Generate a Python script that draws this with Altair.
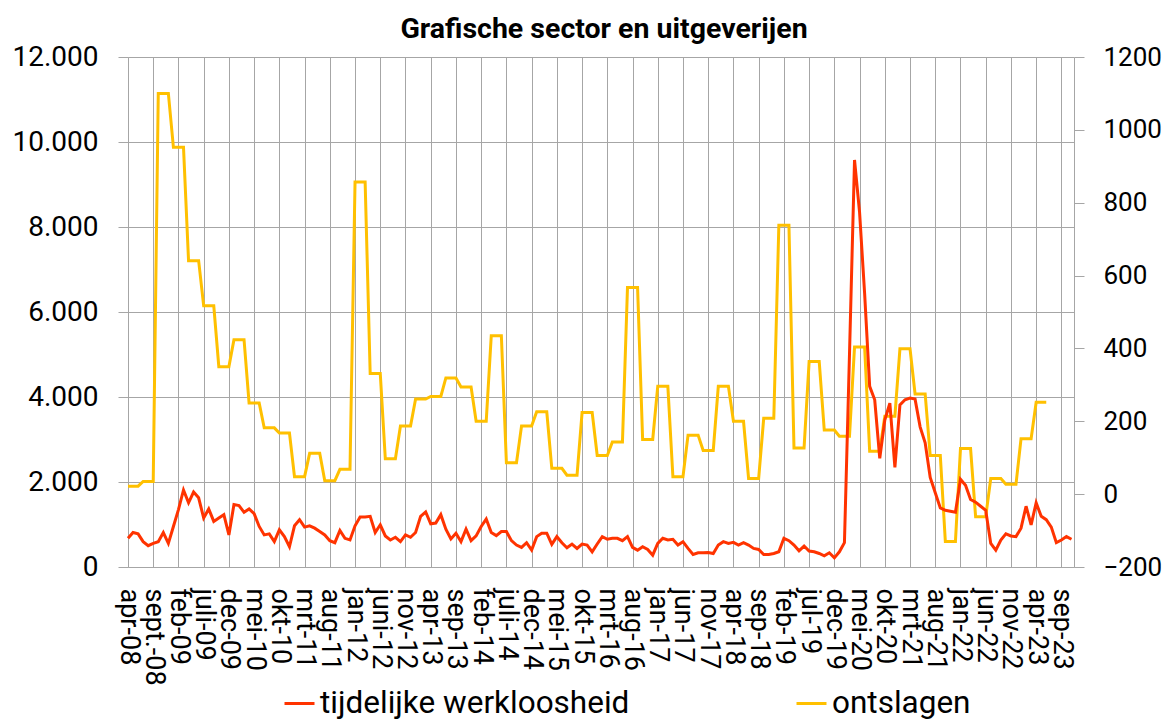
import json
import altair as alt
import pandas as pd

TITLE = "Grafische sector en uitgeverijen"
SERIES = ["tijdelijke werkloosheid", "ontslagen"]
COLORS = ["#FF3300", "#FFC000"]

x_labels = ["apr-08", "sept.-08", "feb-09", "juli-09", "dec-09", "mei-10", "okt-10",
            "mrt-11", "aug-11", "jan-12", "juni-12", "nov-12", "apr-13", "sep-13",
            "feb-14", "juli-14", "dec-14", "mei-15", "okt-15", "mrt-16", "aug-16",
            "jan-17", "jun-17", "nov-17", "apr-18", "sep-18", "feb-19", "jul-19",
            "dec-19", "mei-20", "okt-20", "mrt-21", "aug-21", "jan-22", "jun-22",
            "nov-22", "apr-23", "sep-23"]

# tijdelijke werkloosheid, monthly from apr-08 to nov-23 (left axis)
werkloosheid = [
    675, 811, 779, 596, 501, 556, 596, 811, 556, 954,
    1351, 1812, 1510, 1764, 1629, 1152, 1367, 1073, 1152, 1232,
    755, 1470, 1446, 1287, 1367, 1255, 954, 755, 779, 596,
    874, 715, 477, 970, 1113, 938, 970, 914, 834, 755,
    620, 572, 858, 675, 636, 970, 1176, 1176, 1192, 811,
    993, 731, 636, 699, 596, 755, 699, 811, 1192, 1295,
    1017, 1033, 1232, 890, 660, 795, 596, 890, 620, 731,
    954, 1128, 811, 739, 834, 834, 620, 517, 461, 572,
    397, 715, 795, 795, 532, 715, 572, 453, 540, 437,
    540, 517, 358, 540, 715, 652, 675, 675, 620, 715,
    461, 397, 477, 413, 278, 556, 675, 636, 652, 517,
    596, 437, 294, 334, 334, 342, 318, 517, 596, 556,
    580, 517, 572, 517, 437, 413, 294, 294, 318, 358,
    675, 620, 517, 381, 493, 374, 358, 318, 262, 334,
    215, 358, 572, 5000, 9577, 8344, 6437, 4251, 3934, 2558,
    3457, 3854, 2344, 3814, 3934, 3973, 3950, 3298, 2924, 2106,
    1748, 1390, 1335, 1311, 1287, 2066, 1923, 1589, 1526, 1430,
    1335, 556, 397, 636, 779, 731, 715, 914, 1430, 993,
    1510, 1192, 1113, 938, 572, 636, 715, 652,
]

# ontslagen, quarterly from Q2-2008 to Q2-2023 (right axis)
ontslagen_q = [
    22, 35, 1100,
    952, 641, 517, 350,
    424, 250, 182, 168,
    48, 112, 37, 68,
    857, 331, 97, 187,
    261, 268, 319, 294,
    200, 435, 86, 187,
    226, 71, 52, 224,
    106, 143, 567, 150,
    296, 48, 162, 120,
    296, 200, 43, 208,
    738, 127, 364, 176,
    159, 404, 118, 214,
    399, 275, 106, -130,
    125, -62, 43, 27,
    152, 252,
]

ont_monthly = [v for v in ontslagen_q for _ in range(3)]

df_red = pd.DataFrame({"m": list(range(len(werkloosheid))), "v": werkloosheid, "s": SERIES[0]})
df_yel = pd.DataFrame({"m": list(range(len(ont_monthly))), "v": ont_monthly, "s": SERIES[1]})
df_title = pd.DataFrame({"t": [TITLE]})

FONT = "Roboto"
GRID = "#A6A6A6"
W, H = 946, 510

label_expr = json.dumps(x_labels) + "[round(datum.value / 5)]"

x_enc = alt.X(
    "m:Q",
    scale=alt.Scale(domain=[0, 187.5], nice=False, zero=False),
    axis=alt.Axis(
        values=list(range(0, 186, 5)), labelExpr=label_expr, labelAngle=90,
        labelAlign="left", labelBaseline="middle", labelPadding=21,
        ticks=False, tickSize=0, grid=True, gridColor=GRID, gridWidth=1,
        domainColor=GRID, domainWidth=1, labelFontSize=27, labelFont=FONT,
        labelColor="black", title=None, labelOverlap=False, labelBound=False,
        labelFlush=False,
    ),
)

color_enc = alt.Color(
    "s:N",
    scale=alt.Scale(domain=SERIES, range=COLORS),
    legend=alt.Legend(
        orient="none", legendX=155, legendY=630, direction="horizontal",
        columns=2, columnPadding=160, symbolType="stroke", symbolSize=900,
        symbolStrokeWidth=3, labelFontSize=31.5, labelFont=FONT, labelColor="black",
        labelOffset=4, title=None, padding=0, labelLimit=0,
    ),
)

red_line = alt.Chart(df_red).mark_line(strokeWidth=3).encode(
    x=x_enc,
    y=alt.Y(
        "v:Q",
        scale=alt.Scale(domain=[0, 12000], nice=False, zero=False),
        axis=alt.Axis(
            orient="left", values=list(range(0, 12001, 2000)),
            labelExpr="replace(format(datum.value, ','), ',', '.')",
            grid=True, gridColor=GRID, gridWidth=1, domainColor=GRID,
            tickColor=GRID, tickSize=10, labelPadding=20, labelFontSize=28,
            labelFont=FONT, labelColor="black", title=None, labelFlush=False,
        ),
    ),
    color=color_enc,
)

yel_line = alt.Chart(df_yel).mark_line(strokeWidth=3).encode(
    x=x_enc,
    y=alt.Y(
        "v:Q",
        scale=alt.Scale(domain=[-200, 1200], nice=False, zero=False),
        axis=alt.Axis(
            orient="right", values=list(range(-200, 1201, 200)), format="d",
            grid=False, domainColor=GRID, tickColor=GRID, tickSize=10,
            labelPadding=19, labelFontSize=26, labelFont=FONT, labelColor="black",
            title=None, labelFlush=False,
        ),
    ),
    color=color_enc,
)

title_text = alt.Chart(df_title).mark_text(
    font=FONT, fontSize=28.5, fontWeight="bold", color="black",
    align="center", baseline="alphabetic",
).encode(text="t:N", x=alt.value(476), y=alt.value(-19))

chart = (
    alt.layer(yel_line, red_line, title_text)
    .resolve_scale(y="independent")
    .properties(
        width=W,
        height=H,
        autosize=alt.AutoSizeParams(type="none"),
        padding={"left": 120, "top": 49, "right": 89, "bottom": 155},
    )
    .configure_view(strokeWidth=0)
)

chart.save("out.html", embed_options={"renderer": "svg", "actions": False})
